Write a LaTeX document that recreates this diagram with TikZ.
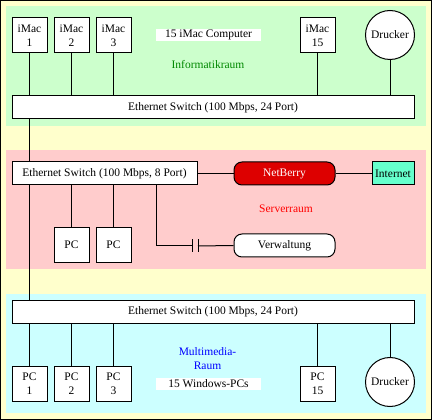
\documentclass[tikz,border=0pt]{standalone}
\usepackage{fontspec}
\setmainfont{Liberation Serif}
\usetikzlibrary{positioning,calc}
\definecolor{netpaper}{HTML}{FFFFCC}
\definecolor{netgreen}{HTML}{CCFFCC}
\definecolor{netpink}{HTML}{FFCCCC}
\definecolor{netcyan}{HTML}{CCFFFF}
\definecolor{netred}{HTML}{DD0000}
\definecolor{netmint}{HTML}{66FFCC}
\definecolor{netgreentext}{HTML}{008800}
\newcommand\netfont{\fontsize{11.5}{14}\selectfont}

\begin{document}
\begin{tikzpicture}[x=1pt,y=-1pt,line width=1pt,
    host/.style={rectangle,draw,fill=white,minimum width=35pt,minimum height=35pt,
                 inner sep=1pt,align=center,font=\netfont},
    switch/.style={rectangle,draw,fill=white,minimum height=23pt,inner sep=2pt,font=\netfont},
    printer/.style={circle,draw,fill=white,minimum size=49pt,inner sep=0pt,font=\netfont},
    pill/.style={rectangle,rounded corners=8pt,draw,minimum width=101pt,
                 minimum height=23pt,font=\netfont},
    tag/.style={fill=white,minimum width=105pt,minimum height=12pt,inner sep=0pt,font=\netfont},
    room/.style={align=center,font=\netfont},
  ]
    \useasboundingbox (0,0) rectangle (432,420);
    % paper and the three rooms
    \draw[fill=netpaper] (0.5,0.5) rectangle (431.5,419.5);
    \fill[netgreen] (6,6)   rectangle (426,126);
    \fill[netpink]  (6,150) rectangle (426,269);
    \fill[netcyan]  (6,294) rectangle (426,413);

    % Informatikraum
    \node[host] (imac1)  at ( 29.5,35.5) {iMac\\1};
    \node[host] (imac2)  at ( 71.5,35.5) {iMac\\2};
    \node[host] (imac3)  at (113.5,35.5) {iMac\\3};
    \node[host] (imac15) at (317.5,35.5) {iMac\\15};
    \node[printer] (drucker1) at (390,35) {Drucker};
    \node[tag]  (tag1)  at (208.5,35) {15 iMac Computer};
    \node[room,text=netgreentext] (room1) at (208,65) {Informatikraum};
    \node[switch,minimum width=402pt] (sw1) at (213,107.5) {Ethernet Switch (100 Mbps, 24 Port)};

    % Serverraum
    \node[switch,minimum width=185pt] (sw2) at (104.5,173.5) {Ethernet Switch (100 Mbps, 8 Port)};
    \node[pill,fill=netred,text=white] (netberry) at (284.5,173.5) {NetBerry};
    \node[switch,fill=netmint,minimum width=42pt,inner sep=1pt] (internet) at (393,173.5) {Internet};
    \node[room,text=red] (room2) at (286,209) {Serverraum};
    \node[host] (pca) at ( 71.5,245) {PC};
    \node[host] (pcb) at (113.5,245) {PC};
    \node[pill,fill=white] (verw) at (284.5,245.5) {Verwaltung};
    \coordinate (tap) at ($(sw2.south east)+(-41,0)$);
    \coordinate (cap) at (195,246);

    % Multimedia-Raum
    \node[switch,minimum width=402pt] (sw3) at (213,312) {Ethernet Switch (100 Mbps, 24 Port)};
    \node[host] (pm1)  at ( 29.5,383.5) {PC\\1};
    \node[host] (pm2)  at ( 71.5,383.5) {PC\\2};
    \node[host] (pm3)  at (113.5,383.5) {PC\\3};
    \node[host] (pm15) at (317.5,383.5) {PC\\15};
    \node[printer] (drucker2) at (390,382) {Drucker};
    \node[room,text=blue] (room3) at (207.5,359) {Multimedia-\\Raum};
    \node[tag] (tag2) at (208.5,383.5) {15 Windows-PCs};

    % cabling
    \foreach \n in {imac1,imac2,imac3,imac15,drucker1}
      \draw (\n.south) -- (\n.south |- sw1.north);
    \draw (sw1.south -| imac1.south) -- (sw2.north -| imac1.south);
    \draw (sw2.south -| imac1.south) -- (sw3.north -| imac1.south);
    \draw (sw2.east) -- (netberry.west);
    \draw (netberry.east) -- (internet.west);
    \foreach \n in {pca,pcb}
      \draw (\n.north) -- (\n.north |- sw2.south);
    \draw (tap) |- ([xshift=-3pt]cap);
    \draw ([xshift=-3pt,yshift=6.5pt]cap) -- ([xshift=-3pt,yshift=-6.5pt]cap);
    \draw ([xshift=3pt,yshift=6.5pt]cap) -- ([xshift=3pt,yshift=-6.5pt]cap);
    \draw ([xshift=3pt]cap) -- (verw.west);
    \foreach \n in {pm1,pm2,pm3,pm15,drucker2}
      \draw (\n.north) -- (\n.north |- sw3.south);
  \end{tikzpicture}
\end{document}
